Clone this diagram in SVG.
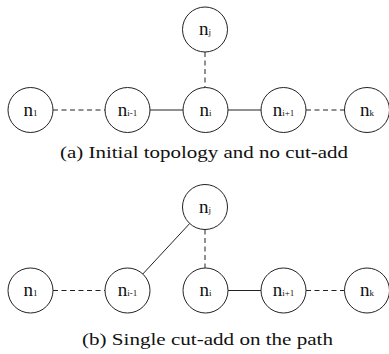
<svg xmlns="http://www.w3.org/2000/svg" width="389" height="354" viewBox="0 0 389 354">
  <style>
    .node circle { fill: #fff; stroke: #222; stroke-width: 1; }
    .node text { font-family: "Liberation Serif", "Times New Roman", Tinos, "DejaVu Serif", "Noto Serif", serif; font-size: 19px; fill: #111; text-anchor: middle; }
    .node tspan.sub { font-size: 9px; }
    .edge { stroke: #222; stroke-width: 1; fill: none; }
    .dash { stroke-dasharray: 5 3.5; }
    .caption { font-family: "Liberation Serif", "Times New Roman", Tinos, "DejaVu Serif", "Noto Serif", serif; font-size: 17px; fill: #111; }
  </style>

  <!-- (a) initial topology -->
  <g id="edges-a">
    <line class="edge dash" x1="53" y1="110" x2="105" y2="110"/>
    <line class="edge" x1="150" y1="110" x2="183" y2="110"/>
    <line class="edge" x1="228" y1="110" x2="261" y2="110"/>
    <line class="edge dash" x1="306" y1="110" x2="344.5" y2="110"/>
    <line class="edge dash" x1="205" y1="52" x2="205" y2="87.5"/>
  </g>
  <g id="a-nj" class="node"><circle cx="205" cy="29.5" r="22.5"/><text x="205" y="35">n<tspan class="sub">j</tspan></text></g>
  <g id="a-n1" class="node"><circle cx="30.5" cy="110" r="22.5"/><text x="30.5" y="115.5">n<tspan class="sub">1</tspan></text></g>
  <g id="a-ni-1" class="node"><circle cx="127.5" cy="110" r="22.5"/><text x="127.5" y="115.5">n<tspan class="sub">i-1</tspan></text></g>
  <g id="a-ni" class="node"><circle cx="205.5" cy="110" r="22.5"/><text x="205.5" y="115.5">n<tspan class="sub">i</tspan></text></g>
  <g id="a-ni+1" class="node"><circle cx="283.5" cy="110" r="22.5"/><text x="283.5" y="115.5">n<tspan class="sub">i+1</tspan></text></g>
  <g id="a-nk" class="node"><circle cx="367" cy="110" r="22.5"/><text x="367" y="115.5">n<tspan class="sub">k</tspan></text></g>
  <text class="caption" x="60" y="157.5" textLength="288" lengthAdjust="spacingAndGlyphs">(a) Initial topology and no cut-add</text>

  <!-- (b) single cut-add -->
  <g id="edges-b">
    <line class="edge dash" x1="53" y1="290.5" x2="105" y2="290.5"/>
    <line class="edge" x1="189.7" y1="223.5" x2="142.8" y2="274"/>
    <line class="edge dash" x1="205" y1="229.5" x2="205" y2="268"/>
    <line class="edge" x1="228" y1="290.5" x2="261" y2="290.5"/>
    <line class="edge dash" x1="306" y1="290.5" x2="344.5" y2="290.5"/>
  </g>
  <g id="b-nj" class="node"><circle cx="205" cy="207" r="22.5"/><text x="205" y="212.5">n<tspan class="sub">j</tspan></text></g>
  <g id="b-n1" class="node"><circle cx="30.5" cy="290.5" r="22.5"/><text x="30.5" y="296">n<tspan class="sub">1</tspan></text></g>
  <g id="b-ni-1" class="node"><circle cx="127.5" cy="290.5" r="22.5"/><text x="127.5" y="296">n<tspan class="sub">i-1</tspan></text></g>
  <g id="b-ni" class="node"><circle cx="205.5" cy="290.5" r="22.5"/><text x="205.5" y="296">n<tspan class="sub">i</tspan></text></g>
  <g id="b-ni+1" class="node"><circle cx="283.5" cy="290.5" r="22.5"/><text x="283.5" y="296">n<tspan class="sub">i+1</tspan></text></g>
  <g id="b-nk" class="node"><circle cx="367" cy="290.5" r="22.5"/><text x="367" y="296">n<tspan class="sub">k</tspan></text></g>
  <text class="caption" x="82" y="345" textLength="251" lengthAdjust="spacingAndGlyphs">(b) Single cut-add on the path</text>
</svg>
